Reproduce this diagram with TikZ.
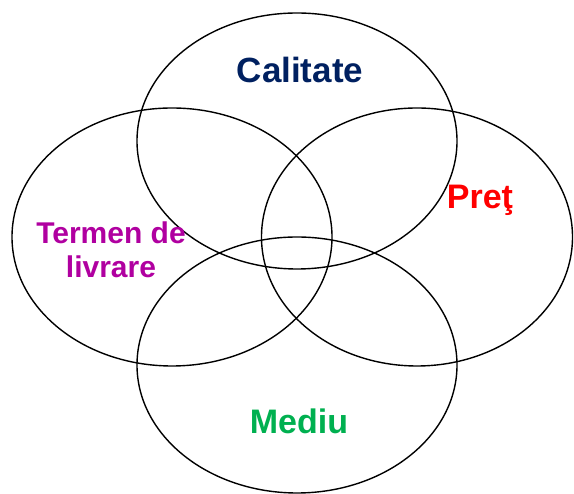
\documentclass[tikz,border=0pt]{standalone}
\usepackage{fontspec}
\setmainfont{Liberation Sans}
\usetikzlibrary{shapes.geometric}
\definecolor{navy}{RGB}{0,32,96}
\definecolor{plum}{RGB}{176,0,160}
\definecolor{leaf}{RGB}{0,176,80}
\begin{document}
\begin{tikzpicture}[x=1pt,y=1pt,
  venn/.style={draw=black, line width=1.4pt, shape=ellipse, inner sep=0pt},
  lbl/.style={font=\fontsize{34}{34}\selectfont\bfseries, anchor=base, inner sep=0pt}]
\useasboundingbox (0,0) rectangle (574,494);
\node[venn, minimum width=320pt, minimum height=256pt] (calitate) at (297,353) {};
\node[venn, minimum width=320pt, minimum height=258pt] (termen) at (172,257) {};
\node[venn, minimum width=311pt, minimum height=258pt] (pret) at (417,257) {};
\node[venn, minimum width=320pt, minimum height=256pt] (mediu) at (297,129) {};
\node[lbl, navy, font=\fontsize{35}{35}\selectfont\bfseries] (tcal) at (300,411) {Calitate};
\node[lbl, plum, font=\fontsize{30}{34}\selectfont\bfseries, align=center] (tterm) at (111,216) {Termen de\\livrare};
\node[lbl, red] (tpret) at (480,285) {Preţ};
\node[lbl, leaf] (tmed) at (299,60) {Mediu};
\end{tikzpicture}
\end{document}
